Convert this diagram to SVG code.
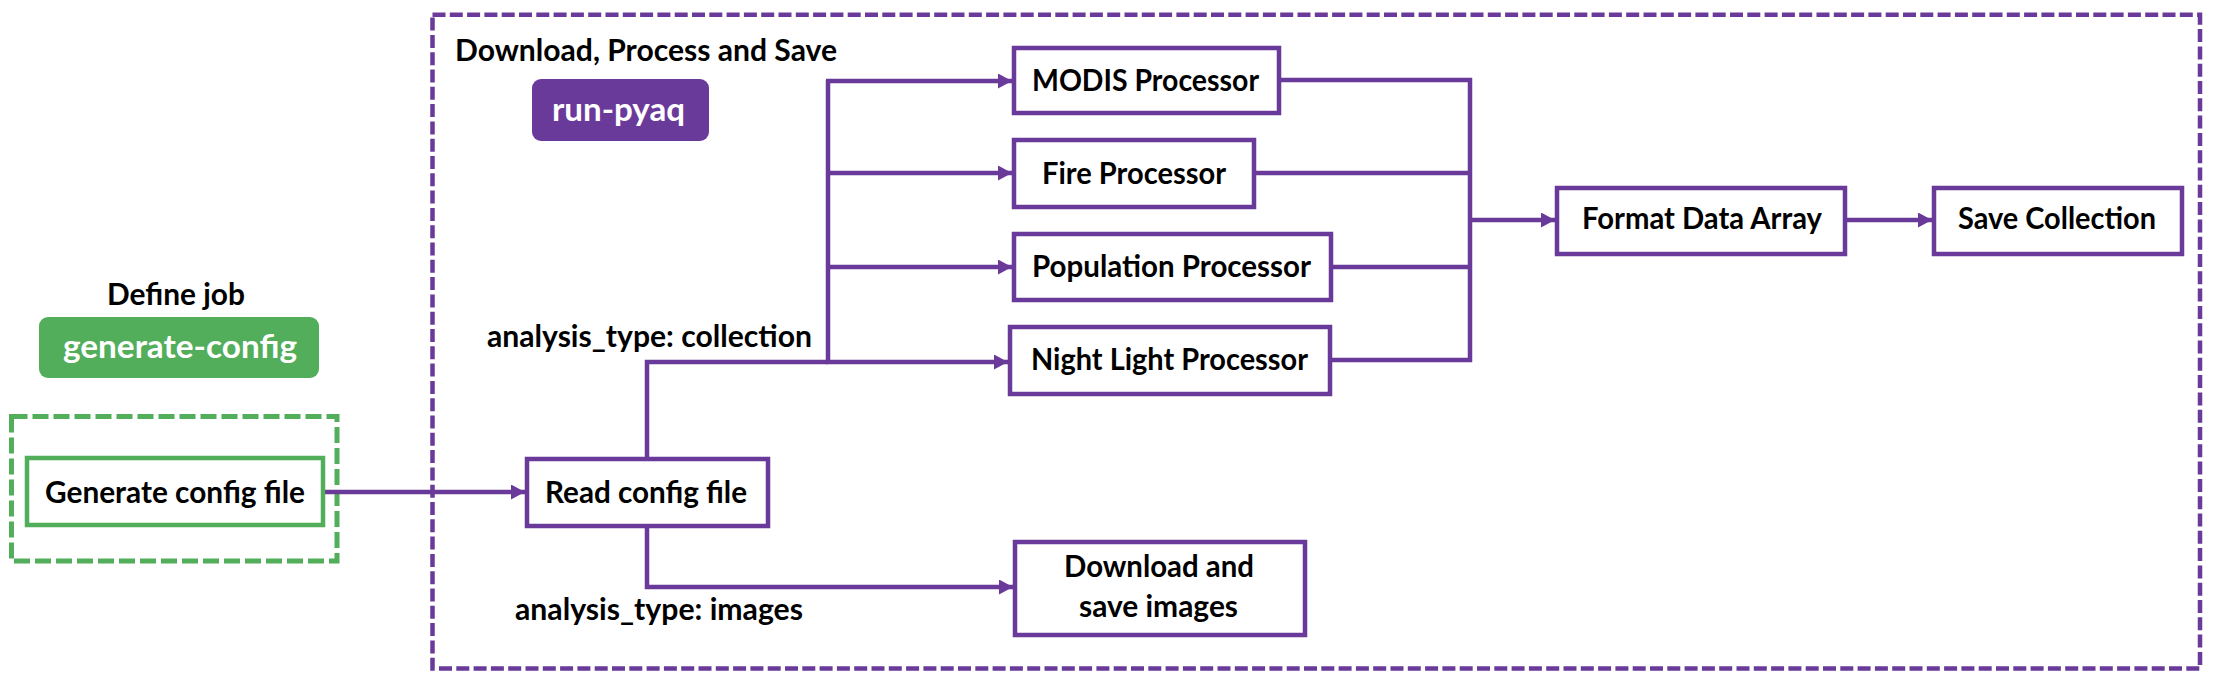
<svg xmlns="http://www.w3.org/2000/svg" width="2216" height="684" viewBox="0 0 2216 684">
<defs>
<style>
.box{fill:#fff;stroke:#6A3A9B;stroke-width:4.5}
.gbox{fill:#fff;stroke:#52AE5B;stroke-width:4.5}
.lbl{font-family:Lato,"Open Sans","Liberation Sans",sans-serif;font-weight:bold;font-size:31px;fill:#000}
.pill{font-family:Lato,"Open Sans","Liberation Sans",sans-serif;font-weight:bold;font-size:33px;fill:#fff}
.ln{fill:none;stroke:#6A3A9B;stroke-width:4.5}
</style>
<marker id="ah" markerUnits="userSpaceOnUse" markerWidth="14" markerHeight="15" refX="14" refY="7.5" orient="auto">
<path d="M0,0 L14,7.5 L0,15 z" fill="#6A3A9B"/>
</marker>
</defs>
<rect width="2216" height="684" fill="#fff"/>

<g id="group-define-job">
<rect x="11.5" y="416.5" width="325.5" height="144.5" fill="none" stroke="#52AE5B" stroke-width="5" stroke-dasharray="16 5"/>
<text class="lbl" x="107" y="305" textLength="138" lengthAdjust="spacingAndGlyphs">Define job</text>
<rect x="39" y="317" width="280" height="61" rx="9" fill="#52AE5B"/>
<text class="pill" x="63" y="358" textLength="234" lengthAdjust="spacingAndGlyphs">generate-config</text>
</g>

<g id="group-run-pyaq">
<rect x="432.5" y="14.7" width="1767.5" height="653.8" fill="none" stroke="#6A3A9B" stroke-width="4.5" stroke-dasharray="13 4.3"/>
<text class="lbl" x="455" y="61" textLength="382" lengthAdjust="spacingAndGlyphs">Download, Process and Save</text>
<rect x="532" y="79" width="177" height="62" rx="9" fill="#6A3A9B"/>
<text class="pill" x="552" y="121" textLength="133" lengthAdjust="spacingAndGlyphs">run-pyaq</text>
<text class="lbl" x="487" y="347" textLength="325" lengthAdjust="spacingAndGlyphs">analysis_type: collection</text>
<text class="lbl" x="515" y="620" textLength="288" lengthAdjust="spacingAndGlyphs">analysis_type: images</text>
</g>

<g id="connectors">
<line class="ln" x1="325" y1="492" x2="525" y2="492" marker-end="url(#ah)"/>
<polyline class="ln" points="647,459 647,362 828,362"/>
<line class="ln" x1="828" y1="80" x2="828" y2="364"/>
<line class="ln" x1="826" y1="81" x2="1012" y2="81" marker-end="url(#ah)"/>
<line class="ln" x1="826" y1="173" x2="1012" y2="173" marker-end="url(#ah)"/>
<line class="ln" x1="826" y1="267" x2="1012" y2="267" marker-end="url(#ah)"/>
<line class="ln" x1="826" y1="362" x2="1008" y2="362" marker-end="url(#ah)"/>
<polyline class="ln" points="647,526 647,587 1013,587" marker-end="url(#ah)"/>
<polyline class="ln" points="1281,80 1470,80 1470,360 1332,360"/>
<line class="ln" x1="1256" y1="173" x2="1470" y2="173"/>
<line class="ln" x1="1333" y1="267" x2="1470" y2="267"/>
<line class="ln" x1="1468" y1="220" x2="1555" y2="220" marker-end="url(#ah)"/>
<line class="ln" x1="1847" y1="220" x2="1932" y2="220" marker-end="url(#ah)"/>
</g>

<g id="node-generate-config-file">
<rect class="gbox" x="27" y="458" width="296" height="67"/>
<text class="lbl" x="45" y="503" textLength="260" lengthAdjust="spacingAndGlyphs">Generate config file</text>
</g>
<g id="node-read-config-file">
<rect class="box" x="527" y="459" width="241" height="67"/>
<text class="lbl" x="545" y="503" textLength="202" lengthAdjust="spacingAndGlyphs">Read config file</text>
</g>
<g id="node-modis">
<rect class="box" x="1014" y="48" width="265" height="65"/>
<text class="lbl" x="1032" y="91" textLength="227" lengthAdjust="spacingAndGlyphs">MODIS Processor</text>
</g>
<g id="node-fire">
<rect class="box" x="1014" y="140" width="240" height="67"/>
<text class="lbl" x="1042" y="184" textLength="184" lengthAdjust="spacingAndGlyphs">Fire Processor</text>
</g>
<g id="node-population">
<rect class="box" x="1014" y="234" width="317" height="66"/>
<text class="lbl" x="1032" y="277" textLength="279" lengthAdjust="spacingAndGlyphs">Population Processor</text>
</g>
<g id="node-night-light">
<rect class="box" x="1010" y="327" width="320" height="67"/>
<text class="lbl" x="1031" y="370" textLength="277" lengthAdjust="spacingAndGlyphs">Night Light Processor</text>
</g>
<g id="node-download-images">
<rect class="box" x="1015" y="542" width="290" height="93"/>
<text class="lbl" x="1064" y="577" textLength="190" lengthAdjust="spacingAndGlyphs">Download and</text>
<text class="lbl" x="1079" y="617" textLength="159" lengthAdjust="spacingAndGlyphs">save images</text>
</g>
<g id="node-format">
<rect class="box" x="1557" y="188" width="288" height="66"/>
<text class="lbl" x="1582" y="229" textLength="240" lengthAdjust="spacingAndGlyphs">Format Data Array</text>
</g>
<g id="node-save">
<rect class="box" x="1934" y="188" width="248" height="66"/>
<text class="lbl" x="1958" y="229" textLength="198" lengthAdjust="spacingAndGlyphs">Save Collection</text>
</g>
</svg>
